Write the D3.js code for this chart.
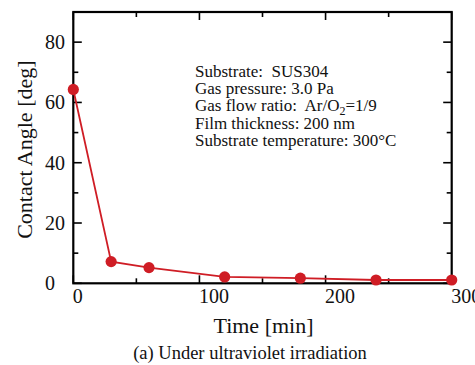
<!DOCTYPE html>
<html>
<head>
<meta charset="utf-8">
<script src="https://cdn.jsdelivr.net/npm/d3@7"></script>
<style>
  html, body { margin: 0; padding: 0; background: #fff; }
  svg { display: block; }
  text { font-family: "Liberation Serif", "Times New Roman", serif; fill: #111; }
</style>
</head>
<body>
<svg id="chart" width="475" height="365"></svg>
<script>
const timeMin = [0, 30, 60, 120, 180, 240, 300];
const contactAngle = [64.3, 7.2, 5.2, 2.1, 1.7, 1.1, 1.1];
const xTickLabels = [0, 100, 200, 300];
const yTickLabels = [0, 20, 40, 60, 80];
const annotationLines = [
  "Substrate:  SUS304",
  "Gas pressure: 3.0 Pa",
  "Gas flow ratio:  Ar/O|2|=1/9",
  "Film thickness: 200 nm",
  "Substrate temperature: 300°C"
];

const svg = d3.select("#chart");
const L = 73.3, R = 451.7, T = 12, B = 283.3;
const x = d3.scaleLinear().domain([0, 300]).range([L, R]);
const y = d3.scaleLinear().domain([0, 90]).range([B, T]);
const red = "#cf1d25";

// ticks
const xMinor = d3.range(0, 301, 50);
const yMinor = d3.range(0, 91, 10);
const g = svg.append("g").attr("stroke", "#000").attr("stroke-width", 1.6);
xMinor.forEach(v => {
  const len = v % 100 === 0 ? 8 : 5;
  g.append("line").attr("x1", x(v)).attr("x2", x(v)).attr("y1", B).attr("y2", B - len);
  g.append("line").attr("x1", x(v)).attr("x2", x(v)).attr("y1", T).attr("y2", T + len);
});
yMinor.forEach(v => {
  const len = v % 20 === 0 ? 8.5 : 5;
  g.append("line").attr("x1", L).attr("x2", L + len).attr("y1", y(v)).attr("y2", y(v));
  g.append("line").attr("x1", R).attr("x2", R - len).attr("y1", y(v)).attr("y2", y(v));
});

// frame
svg.append("rect").attr("x", L).attr("y", T).attr("width", R - L).attr("height", B - T)
  .attr("fill", "none").attr("stroke", "#000").attr("stroke-width", 2.2);

// tick labels
svg.selectAll(".xl").data(xTickLabels).enter().append("text")
  .attr("x", d => x(d) - 0.5).attr("y", 303)
  .attr("font-size", 20).attr("text-anchor", "start").text(d => d);
svg.selectAll(".yl").data(yTickLabels).enter().append("text")
  .attr("x", 45).attr("y", d => y(d) + 7)
  .attr("font-size", 20).attr("text-anchor", "start").text(d => d);

// axis titles
svg.append("text").attr("x", (L + R) / 2 + 1).attr("y", 333)
  .attr("font-size", 22).attr("text-anchor", "middle").text("Time [min]");
svg.append("text").attr("transform", `translate(32,${(T + B) / 2 + 2}) rotate(-90)`)
  .attr("font-size", 22).attr("text-anchor", "middle").text("Contact Angle [deg]");
svg.append("text").attr("x", 250).attr("y", 359)
  .attr("font-size", 18.5).attr("text-anchor", "middle").text("(a) Under ultraviolet irradiation");

// annotation
const ann = svg.append("g");
annotationLines.forEach((line, i) => {
  const t = ann.append("text").attr("x", 195).attr("y", 77 + i * 17.2)
    .attr("font-size", 17).style("white-space", "pre");
  const parts = line.split("|");
  parts.forEach((p, j) => {
    const ts = t.append("tspan").text(p);
    if (j === 1) ts.attr("font-size", 12).attr("dy", 4);
    if (j === 2) ts.attr("dy", -4);
  });
});

// data
const pts = timeMin.map((t, i) => [t, contactAngle[i]]);
svg.append("path").datum(pts)
  .attr("fill", "none").attr("stroke", red).attr("stroke-width", 1.8)
  .attr("d", d3.line().x(d => x(d[0])).y(d => y(d[1])));
svg.selectAll(".pt").data(pts).enter().append("circle")
  .attr("cx", d => x(d[0])).attr("cy", d => y(d[1])).attr("r", 5.6).attr("fill", red);
</script>
</body>
</html>
